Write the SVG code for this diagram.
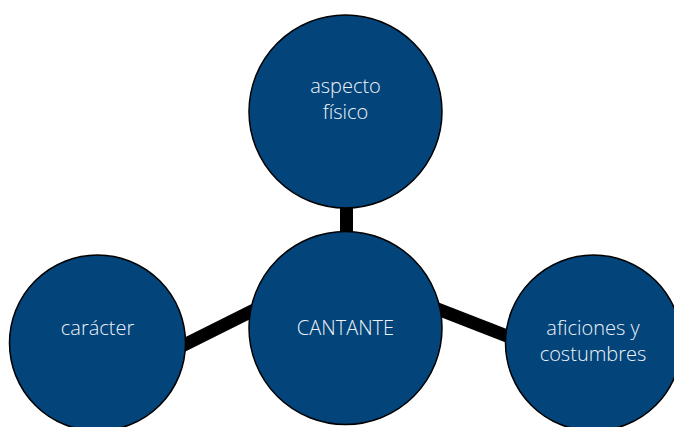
<svg xmlns="http://www.w3.org/2000/svg" width="674" height="427" viewBox="0 0 674 427">
  <style>
    .node { fill: #03447a; stroke: #000; stroke-width: 1.5; }
    .lbl { font-family: "Open Sans", "Noto Sans", "Liberation Sans", sans-serif; font-size: 20px; font-weight: 300; fill: #edf3f9; text-anchor: middle; }
    .conn { stroke: #000; stroke-width: 13; fill: none; }
  </style>
  <rect width="674" height="427" fill="#ffffff"/>
  <g id="connectors">
    <line class="conn" x1="346.5" y1="200" x2="346.5" y2="240"/>
    <line class="conn" x1="180" y1="347" x2="256" y2="309"/>
    <line class="conn" x1="435" y1="308" x2="512" y2="338"/>
  </g>
  <g id="node-top">
    <circle class="node" cx="345.5" cy="111.5" r="96.5"/>
    <text class="lbl" x="345.5" y="93">aspecto</text>
    <text class="lbl" x="345.5" y="119">físico</text>
  </g>
  <g id="node-center">
    <circle class="node" cx="345.5" cy="328" r="96.5"/>
    <text class="lbl" x="345.5" y="335">CANTANTE</text>
  </g>
  <g id="node-left">
    <circle class="node" cx="97.5" cy="343" r="88"/>
    <text class="lbl" x="97.5" y="335">carácter</text>
  </g>
  <g id="node-right">
    <circle class="node" cx="593.5" cy="343" r="88"/>
    <text class="lbl" x="593" y="335">aficiones y</text>
    <text class="lbl" x="593" y="361">costumbres</text>
  </g>
</svg>
